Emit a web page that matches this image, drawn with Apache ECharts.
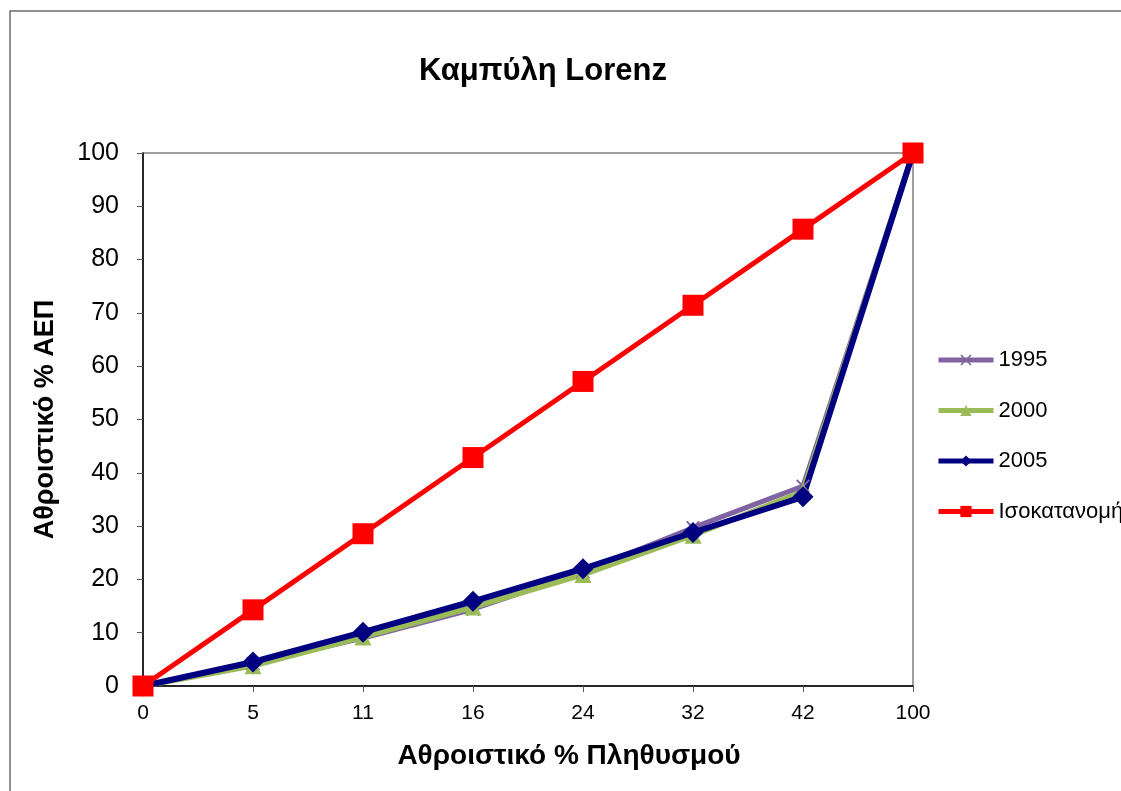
<!DOCTYPE html>
<html lang="el">
<head>
  <meta charset="UTF-8">
  <title>Καμπύλη Lorenz</title>
  <script src="https://cdn.jsdelivr.net/npm/echarts@6/dist/echarts.min.js"></script>
  <style>
    html, body { margin: 0; padding: 0; background: #fff; }
  </style>
</head>
<body>
<div id="lorenz" style="width:1121px;height:791px;"></div>

<script>
  // κατηγορίες άξονα Χ (αθροιστικό % πληθυσμού)
  var categories = ['0', '5', '11', '16', '24', '32', '42', '100'];

  // αθροιστικό % ΑΕΠ ανά έτος
  var data1995 = [0, 4.2, 9.0, 14.4, 21.4, 29.7, 37.5, 100];
  var data2000 = [0, 3.8, 9.2, 14.8, 20.9, 28.3, 36.5, 100];
  var data2005 = [0, 4.5, 10.1, 15.9, 22.0, 28.8, 35.5, 100];
  var dataIso  = [0, 14.29, 28.57, 42.86, 57.14, 71.43, 85.71, 100];

  var yTicks = { min: 0, max: 100, interval: 10 };

  var font = 'Liberation Sans, Arial, sans-serif';
  // σύμβολο "x" για το 1995
  var crossSymbol = 'path://M0,1L1,0L5,4L9,0L10,1L6,5L10,9L9,10L5,6L1,10L0,9L4,5Z';

  var chart = echarts.init(document.getElementById('lorenz'));

  var option = {
    animation: false,
    backgroundColor: '#fff',
    textStyle: { fontFamily: font },
    graphic: [{
      type: 'rect',
      shape: { x: 10, y: 11, width: 1300, height: 900 },
      style: { fill: 'none', stroke: '#6f6f6f', lineWidth: 1.5 },
      silent: true
    }],
    title: {
      text: 'Καμπύλη Lorenz',
      left: 538,
      textAlign: 'center',
      top: 51,
      textStyle: { fontSize: 31, fontWeight: 'bold', color: '#000', fontFamily: font }
    },
    legend: {
      orient: 'vertical',
      left: 931,
      top: 344,
      itemWidth: 55,
      itemHeight: 14,
      itemGap: 28.5,
      textStyle: { fontSize: 22, color: '#000' },
      data: [
        { name: '1995', lineStyle: { width: 5 } },
        { name: '2000', lineStyle: { width: 5 } },
        { name: '2005', lineStyle: { width: 5 } },
        { name: 'Ισοκατανομή', lineStyle: { width: 5 } }
      ]
    },
    grid: {
      left: 143,
      right: 208,
      top: 153,
      bottom: 105,
      show: true,
      borderColor: '#808080',
      borderWidth: 1.5
    },
    xAxis: {
      type: 'category',
      data: categories,
      boundaryGap: false,
      name: 'Αθροιστικό % Πληθυσμού',
      nameLocation: 'middle',
      nameGap: 56,
      nameTextStyle: { fontSize: 28, fontWeight: 'bold', color: '#000', padding: [0, 0, 0, 82] },
      axisLine: { lineStyle: { color: '#000', width: 1.5 } },
      axisTick: { show: true, alignWithLabel: true, length: 6, lineStyle: { color: '#555' } },
      axisLabel: { fontSize: 21, color: '#000', margin: 17 },
      splitLine: { show: false }
    },
    yAxis: {
      type: 'value',
      min: yTicks.min,
      max: yTicks.max,
      interval: yTicks.interval,
      name: 'Αθροιστικό % ΑΕΠ',
      nameLocation: 'middle',
      nameGap: 84,
      nameTextStyle: { fontSize: 27, fontWeight: 'bold', color: '#000' },
      axisLine: { show: true, lineStyle: { color: '#000', width: 1.5 } },
      axisTick: { show: true, length: 6, lineStyle: { color: '#555' } },
      axisLabel: { fontSize: 25, color: '#000', margin: 24 },
      splitLine: { show: false }
    },
    series: [
      {
        name: '1995',
        type: 'line',
        data: data1995,
        symbol: crossSymbol,
        symbolSize: 14,
        lineStyle: { color: '#8064A2', width: 5 },
        itemStyle: { color: '#8064A2' }
      },
      {
        name: '2000',
        type: 'line',
        data: data2000,
        symbol: 'triangle',
        symbolSize: 17,
        lineStyle: { color: '#9BBB59', width: 5.5 },
        itemStyle: { color: '#9BBB59' }
      },
      {
        name: '2005',
        type: 'line',
        data: data2005,
        symbol: 'diamond',
        symbolSize: 21,
        lineStyle: { color: '#000080', width: 6 },
        itemStyle: { color: '#000080' }
      },
      {
        name: 'Ισοκατανομή',
        type: 'line',
        data: dataIso,
        symbol: 'rect',
        symbolSize: 21,
        lineStyle: { color: '#FF0000', width: 5 },
        itemStyle: { color: '#FF0000' }
      }
    ]
  };

  chart.setOption(option);
</script>
</body>
</html>
